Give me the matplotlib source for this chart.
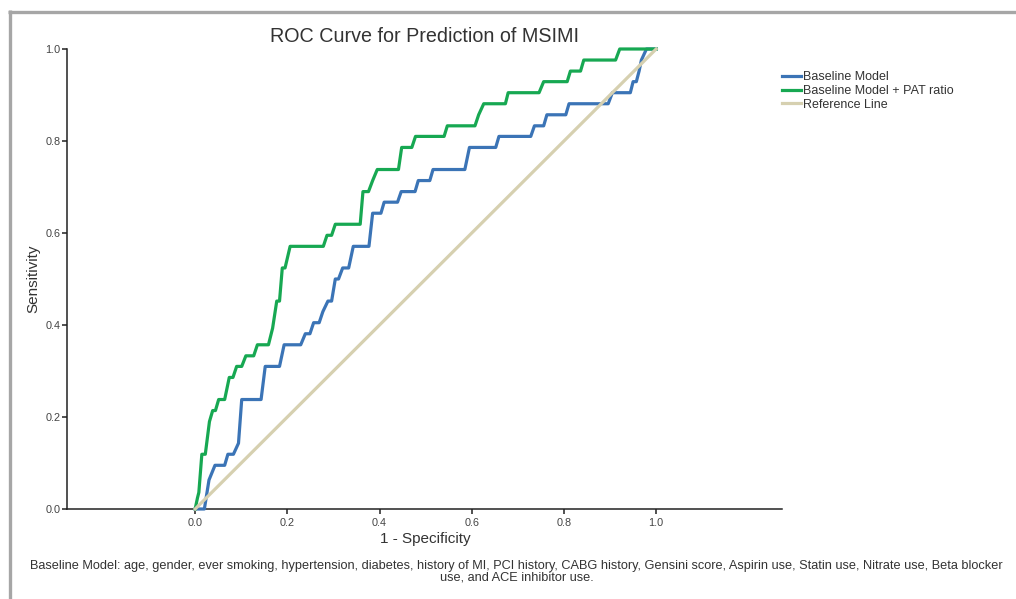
import matplotlib
matplotlib.use("Agg")
import matplotlib.pyplot as plt
from matplotlib.lines import Line2D

plt.rcParams['font.family'] = ['Liberation Sans', 'DejaVu Sans']

# ---- data ----
baseline_fpr = [0.0, 0.02, 0.03, 0.043, 0.064, 0.071, 0.083, 0.094, 0.101, 0.143, 0.152, 0.183,
                0.193, 0.229, 0.239, 0.249, 0.257, 0.269, 0.277, 0.288, 0.296, 0.304, 0.311,
                0.32, 0.333, 0.343, 0.377, 0.385, 0.403, 0.41, 0.439, 0.447, 0.477, 0.484,
                0.509, 0.516, 0.585, 0.595, 0.652, 0.659, 0.728, 0.736, 0.756, 0.763, 0.804,
                0.811, 0.896, 0.905, 0.944, 0.95, 0.957, 0.963, 0.968, 0.979, 1.0]
baseline_tpr = [0.0, 0.0, 0.063, 0.095, 0.095, 0.119, 0.119, 0.143, 0.238, 0.238, 0.31, 0.31,
                0.357, 0.357, 0.381, 0.381, 0.405, 0.405, 0.429, 0.452, 0.452, 0.5, 0.5,
                0.524, 0.524, 0.571, 0.571, 0.643, 0.643, 0.667, 0.667, 0.69, 0.69, 0.714,
                0.714, 0.738, 0.738, 0.786, 0.786, 0.81, 0.81, 0.833, 0.833, 0.857, 0.857,
                0.881, 0.881, 0.905, 0.905, 0.929, 0.929, 0.952, 0.976, 1.0, 1.0]

pat_fpr = [0.0, 0.005, 0.008, 0.0145, 0.022, 0.031, 0.038, 0.044, 0.051, 0.064, 0.074, 0.082,
           0.09, 0.101, 0.11, 0.127, 0.135, 0.159, 0.168, 0.177, 0.183, 0.189, 0.195, 0.206,
           0.278, 0.286, 0.296, 0.304, 0.358, 0.364, 0.376, 0.385, 0.395, 0.441, 0.448, 0.47,
           0.478, 0.54, 0.547, 0.607, 0.615, 0.626, 0.673, 0.679, 0.746, 0.756, 0.807, 0.814,
           0.836, 0.843, 0.912, 0.921, 1.0]
pat_tpr = [0.0, 0.024, 0.036, 0.119, 0.119, 0.19, 0.214, 0.214, 0.238, 0.238, 0.286, 0.286,
           0.31, 0.31, 0.333, 0.333, 0.357, 0.357, 0.393, 0.452, 0.452, 0.524, 0.524, 0.571,
           0.571, 0.595, 0.595, 0.619, 0.619, 0.69, 0.69, 0.714, 0.738, 0.738, 0.786, 0.786,
           0.81, 0.81, 0.833, 0.833, 0.857, 0.881, 0.881, 0.905, 0.905, 0.929, 0.929, 0.952,
           0.952, 0.976, 0.976, 1.0, 1.0]

ref_x = [0.0, 1.0]
ref_y = [0.0, 1.0]

series_labels = ["Baseline Model", "Baseline Model + PAT ratio", "Reference Line"]
tick_values = [0.0, 0.2, 0.4, 0.6, 0.8, 1.0]
tick_labels = ["0.0", "0.2", "0.4", "0.6", "0.8", "1.0"]

title_text = "ROC Curve for Prediction of MSIMI"
xlabel_text = "1 - Specificity"
ylabel_text = "Sensitivity"
footnote_text = ("Baseline Model: age, gender, ever smoking, hypertension, diabetes, history of MI, "
                 "PCI history, CABG history, Gensini score, Aspirin use, Statin use, Nitrate use, "
                 "Beta blocker\nuse, and ACE inhibitor use.")

# ---- figure ----
W, H = 1016, 599
fig = plt.figure(figsize=(W / 100, H / 100), dpi=100)
fig.patch.set_facecolor("white")

def fx(px):
    return px / W

def fy(py):
    return 1 - py / H

ax = fig.add_axes([fx(67), fy(509), fx(782) - fx(67), fy(49) - fy(509)])
ax.set_xlim(-0.278, 1.273)
ax.set_ylim(0, 1)

blue = "#3b74b6"
green = "#17a852"
beige = "#d6d0b0"

ax.plot(baseline_fpr, baseline_tpr, color=blue, lw=2.3, label=series_labels[0], clip_on=False, zorder=3)
ax.plot(pat_fpr, pat_tpr, color=green, lw=2.3, label=series_labels[1], clip_on=False, zorder=3)
ax.plot(ref_x, ref_y, color=beige, lw=2.3, label=series_labels[2], clip_on=False, zorder=4)

for s in ["top", "right"]:
    ax.spines[s].set_visible(False)
for s in ["left", "bottom"]:
    ax.spines[s].set_linewidth(1.1)
    ax.spines[s].set_color("#222222")

ax.set_xticks(tick_values)
ax.set_xticklabels(tick_labels)
ax.set_yticks(tick_values)
ax.set_yticklabels(tick_labels)
ax.tick_params(axis="both", direction="out", length=3.6, width=1.1, color="#222222",
               labelsize=7.8, labelcolor="#444444")
ax.tick_params(axis="y", pad=1)
ax.tick_params(axis="x", pad=3)

ax.legend(loc="upper left", bbox_to_anchor=(fx(782), fy(71.5)), bbox_transform=fig.transFigure,
          frameon=False, fontsize=9, handlelength=1.5, handletextpad=0.15,
          labelspacing=0.12, borderpad=0, borderaxespad=0, labelcolor="#333333")

fig.text(fx(425), fy(37), title_text, ha="center", va="center", fontsize=14.2, color="#333333")
fig.text(fx(425), fy(539), xlabel_text, ha="center", va="center", fontsize=11, color="#333333")
fig.text(fx(33), fy(279), ylabel_text, ha="center", va="center", rotation=90, fontsize=11, color="#333333")
fig.text(fx(516.5), fy(572), footnote_text, ha="center", va="center", fontsize=9.2,
         color="#333333", linespacing=0.98, multialignment="center")

# grey frame
fig.add_artist(Line2D([fx(8), fx(W)], [fy(11.5), fy(11.5)], transform=fig.transFigure,
                      color="#a6a6a6", lw=2.4, solid_capstyle="butt"))
fig.add_artist(Line2D([fx(9.5), fx(9.5)], [fy(10.3), fy(H)], transform=fig.transFigure,
                      color="#a6a6a6", lw=2.4, solid_capstyle="butt"))

fig.savefig("out.png", dpi=100)
